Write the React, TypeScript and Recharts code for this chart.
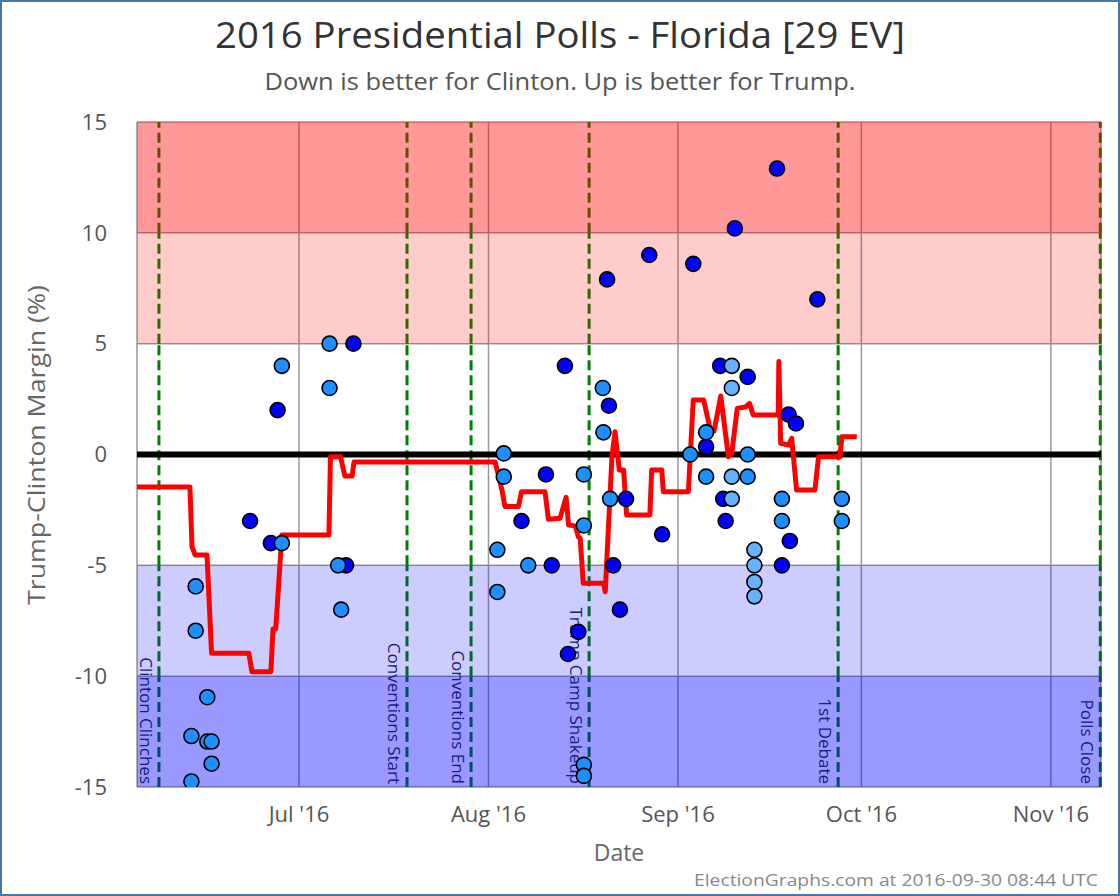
import React from 'react';
import { ComposedChart, Line, Scatter, XAxis, YAxis, CartesianGrid, ReferenceArea, ReferenceLine } from 'recharts';

// x values are days counted from 2016-06-01
const monthTicks = [30, 61, 92, 122, 153];
const monthLabels = ["Jul '16", "Aug '16", "Sep '16", "Oct '16", "Nov '16"];
const marginTicks = [-15, -10, -5, 0, 5, 10, 15];

const eventNames = ['Clinton Clinches', 'Conventions Start', 'Conventions End', 'Trump Camp Shakeup', '1st Debate', 'Polls Close'];
const eventDays = [7.09, 47.67, 58.15, 77.46, 118.2, 161.08];

// background bands (Trump ahead = red, Clinton ahead = blue)
const bandFrom = [10, 5, -10, -15];
const bandTo = [15, 10, -5, -10];
const bandStrong = [true, false, false, true];

// polls, split by marker shade
const darkDays = [22.0, 25.4, 26.5, 37.7, 38.9, 66.4, 70.4, 71.35, 73.5, 74.0, 75.7, 80.4, 80.7, 81.4, 82.5, 83.5, 87.3, 89.4, 94.5, 96.6, 98.9, 99.4, 99.8, 101.3, 103.4, 108.2, 109.0, 110.1, 110.3, 111.3, 114.8];
const darkMargins = [-3, -4, 2, -5, 5, -3, -0.9, -5, 4, -9, -8, 7.9, 2.2, -5, -7, -2, 9, -3.6, 8.6, 0.35, 4, -2, -3, 10.2, 3.5, 12.9, -5, 1.8, -3.9, 1.4, 7];

const midDays = [12.4, 12.4, 13.1, 13.1, 15.0, 15.0, 15.7, 15.7, 27.2, 27.2, 35.0, 35.0, 36.4, 36.9, 62.45, 62.45, 63.5, 63.5, 67.5, 76.6, 76.6, 76.6, 76.6, 79.7, 79.8, 80.9, 94.0, 96.6, 96.6, 103.4, 103.4, 109.0, 109.0, 118.8, 118.8];
const midMargins = [-12.7, -14.75, -5.95, -7.95, -10.95, -12.95, -12.95, -13.95, -4, 4, 5, 3, -5, -7, -4.3, -6.2, 0.05, -1, -5, -0.9, -3.2, -14, -14.5, 3, 1, -2, 0, 1, -1, 0, -1, -2, -3, -2, -3];

const lightDays = [100.8, 100.8, 100.8, 100.8, 104.5, 104.5, 104.5, 104.5];
const lightMargins = [4, 3, -1, -2, -4.3, -5, -5.75, -6.4];

// running average
const avgDays = [3.5, 12.16, 12.5, 13.0, 14.95, 15.7, 21.8, 22.3, 25.4, 25.75, 26.2, 27.2, 34.9, 35.15, 36.8, 37.5, 38.7, 39.0, 62.1, 63.2, 63.7, 65.9, 66.4, 70.25, 70.8, 72.7, 73.7, 74.1, 75.2, 75.7, 76.0, 76.5, 79.8, 80.1, 81.2, 81.7, 82.4, 83.1, 83.6, 87.4, 87.7, 89.35, 89.6, 93.7, 94.5, 96.2, 97.3, 97.9, 99.0, 100.25, 100.8, 101.7, 103.0, 103.7, 104.3, 108.4, 108.5, 108.8, 110.1, 110.6, 111.4, 114.4, 115.0, 118.5, 118.8, 121.25];
const avgMargins = [-1.47, -1.47, -4.16, -4.53, -4.53, -8.97, -8.97, -9.8, -9.8, -7.87, -7.87, -3.63, -3.63, -0.1, -0.1, -0.97, -0.97, -0.34, -0.34, -1.6, -2.35, -2.35, -1.68, -1.68, -2.92, -2.88, -1.93, -3.18, -3.22, -3.71, -3.78, -5.81, -5.81, -6.19, -0.1, 1.03, -0.7, -0.7, -2.73, -2.73, -0.7, -0.7, -1.68, -1.68, 2.46, 2.46, 1.1, 1.06, 2.64, -0.1, 0.05, 2.08, 2.14, 2.31, 1.78, 1.78, 4.19, 0.5, 0.43, 0.73, -1.6, -1.6, -0.1, -0.1, 0.8, 0.8];

const toPoints = (days: number[], vals: number[]) => days.map((d, i) => ({ d, v: vals[i] }));

const darkPts = toPoints(darkDays, darkMargins);
const midPts = toPoints(midDays, midMargins);
const lightPts = toPoints(lightDays, lightMargins);
const avgPts = toPoints(avgDays, avgMargins);

// dashed event lines sit under translucent bands, so each band gets its own shade
const dashShades = [
    { y1: 10, y2: 15, color: '#664d00' },
    { y1: 5, y2: 10, color: '#336600' },
    { y1: -5, y2: 5, color: '#008000' },
    { y1: -10, y2: -5, color: '#006633' },
    { y1: -15, y2: -10, color: '#004d66' },
];

const dot = (color: string) => (p: any) => (
    <circle cx={p.cx} cy={p.cy} r={7.5} fill={color} stroke="#000" strokeWidth={1.6} />
);

const eventLabel = (name: string) => (p: any) => {
    const vb = p.viewBox || {};
    return (
        <text
            transform={`translate(${vb.x - 19}, ${vb.y + vb.height - 3}) rotate(90)`}
            textAnchor="end"
            fontSize={17}
            fill="#1a1a80"
        >
            {name}
        </text>
    );
};

const App: React.FC = () => {
    return (
        <div
            style={{
                position: 'absolute',
                left: 0,
                top: 0,
                width: 1116,
                height: 892,
                border: '2px solid #4a77aa',
                background: '#fff',
                fontFamily: '"Open Sans", sans-serif',
            }}
        >
            <ComposedChart width={1116} height={892} margin={{ top: 120, right: 17, bottom: 77, left: 0 }}>
                <CartesianGrid stroke="#999" strokeWidth={1.5} />
                <XAxis
                    dataKey="d"
                    type="number"
                    domain={[3.5, 161.2]}
                    allowDataOverflow
                    ticks={monthTicks}
                    interval={0}
                    tickFormatter={(d: number) => monthLabels[monthTicks.indexOf(d)]}
                    axisLine={false}
                    tickLine={false}
                    tickSize={0}
                    tickMargin={19}
                    height={30}
                    tick={{ fill: '#555', fontSize: 22 }}
                />
                <YAxis
                    dataKey="v"
                    type="number"
                    domain={[-15, 15]}
                    allowDataOverflow
                    ticks={marginTicks}
                    interval={0}
                    axisLine={false}
                    tickLine={false}
                    tickSize={0}
                    tickMargin={30}
                    width={135}
                    tick={{ fill: '#555', fontSize: 22 }}
                />
                {eventDays.map((d) =>
                    dashShades.map((s) => (
                        <ReferenceLine
                            key={`${d}-${s.y1}`}
                            segment={[{ x: d, y: s.y1 }, { x: d, y: s.y2 }]}
                            stroke={s.color}
                            strokeWidth={3}
                            strokeDasharray="10 5"
                        />
                    ))
                )}
                {bandFrom.map((lo, i) => (
                    <ReferenceArea
                        key={`band-${i}`}
                        y1={lo}
                        y2={bandTo[i]}
                        fill={lo > 0 ? '#ff0000' : '#0000ff'}
                        fillOpacity={bandStrong[i] ? 0.4 : 0.2}
                        stroke="none"
                    />
                ))}
                {eventDays.map((d, i) => (
                    <ReferenceLine key={`lab-${i}`} x={d} stroke="none" label={eventLabel(eventNames[i])} />
                ))}
                <ReferenceLine y={0} stroke="#000" strokeWidth={6} />
                <Line
                    data={avgPts}
                    dataKey="v"
                    type="linear"
                    stroke="#ff0000"
                    strokeWidth={5}
                    strokeLinejoin="round"
                    dot={false}
                    isAnimationActive={false}
                />
                <Scatter data={darkPts} dataKey="v" shape={dot('#0000ff')} isAnimationActive={false} />
                <Scatter data={midPts} dataKey="v" shape={dot('#1e8fff')} isAnimationActive={false} />
                <Scatter data={lightPts} dataKey="v" shape={dot('#66b2ff')} isAnimationActive={false} />
            </ComposedChart>
            <svg width={1116} height={892} style={{ position: 'absolute', left: 0, top: 0, pointerEvents: 'none' }}>
                <text x={558} y={46} textAnchor="middle" fontSize={36} fill="#333" textLength={690} lengthAdjust="spacingAndGlyphs">
                    2016 Presidential Polls - Florida [29 EV]
                </text>
                <text x={558} y={88} textAnchor="middle" fontSize={24} fill="#555" textLength={591} lengthAdjust="spacingAndGlyphs">
                    Down is better for Clinton. Up is better for Trump.
                </text>
                <text transform="translate(43, 443) rotate(-90)" textAnchor="middle" fontSize={23} fill="#666" textLength={320} lengthAdjust="spacingAndGlyphs">
                    Trump-Clinton Margin (%)
                </text>
                <text x={617} y={859} textAnchor="middle" fontSize={23} fill="#666">
                    Date
                </text>
                <text x={1096} y={884} textAnchor="end" fontSize={16} fill="#888" textLength={404} lengthAdjust="spacingAndGlyphs">
                    ElectionGraphs.com at 2016-09-30 08:44 UTC
                </text>
            </svg>
        </div>
    );
};

export default App;
